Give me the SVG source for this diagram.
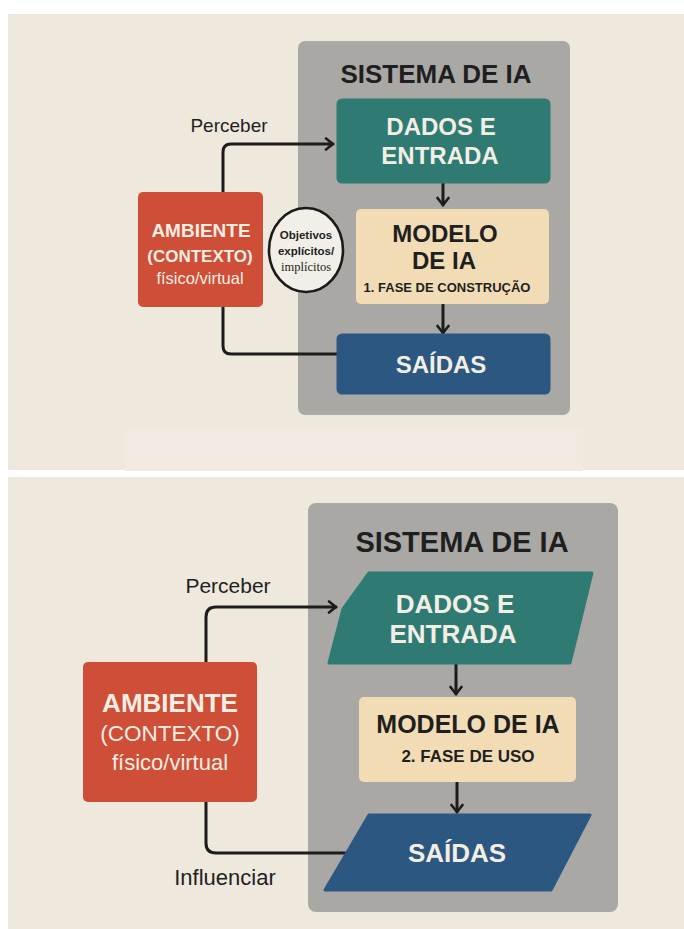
<svg xmlns="http://www.w3.org/2000/svg" width="684" height="929" viewBox="0 0 684 929">
<defs>
<style>
.bg{fill:#efe8dd}
.sys{fill:#a9a8a4}
.teal{fill:#2f7b74;stroke:#2f7b74;stroke-width:3;stroke-linejoin:round}
.cream{fill:#f1dcb6}
.navy{fill:#2c5781;stroke:#2c5781;stroke-width:3;stroke-linejoin:round}
.red{fill:#cf4e37}
.t{font-family:"Liberation Sans",Arial,sans-serif;text-anchor:middle}
.b{font-weight:bold}
.w{fill:#f3eee4}
.d{fill:#1f1f1f}
.con{fill:none;stroke:#1c1c1c;stroke-width:3;stroke-linecap:round;stroke-linejoin:round}
</style>
<marker id="ah" viewBox="0 0 14 14" refX="11" refY="7" markerWidth="14" markerHeight="14" orient="auto" markerUnits="userSpaceOnUse">
<path d="M4,1.5 L11,7 L4,12.5" fill="none" stroke="#1c1c1c" stroke-width="2.6" stroke-linecap="round" stroke-linejoin="round"/>
</marker>
</defs>
<rect width="684" height="929" fill="#ffffff"/>
<rect class="bg" x="8" y="14" width="676" height="456"/>
<rect x="125" y="428" width="458" height="43" fill="#f0eae0"/>
<rect class="bg" x="8" y="477" width="676" height="452"/>

<!-- TOP PANEL -->
<g id="sistema1">
<rect class="sys" x="298" y="41" width="272" height="374" rx="7"/>
<text class="t b d" x="436" y="83" font-size="26">SISTEMA DE IA</text>
</g>
<g id="connectors1">
<path class="con" d="M223,192 V152 Q223,144 231,144 H333" marker-end="url(#ah)"/>
<path class="con" d="M223,307 V346 Q223,354 231,354 H339"/>
<path class="con" d="M443,183 V205" marker-end="url(#ah)"/>
<path class="con" d="M443,305 V333" marker-end="url(#ah)"/>
<text class="t d" x="229" y="132" font-size="19">Perceber</text>
</g>
<g id="dados1">
<rect class="teal" x="338" y="100" width="211" height="82" rx="4"/>
<text class="t b w" x="441" y="135" font-size="24">DADOS E</text>
<text class="t b w" x="440" y="164" font-size="24">ENTRADA</text>
</g>
<g id="modelo1">
<rect class="cream" x="356" y="209" width="193" height="95" rx="5"/>
<text class="t b d" x="445" y="242" font-size="24">MODELO</text>
<text class="t b d" x="444" y="269" font-size="24">DE IA</text>
<text class="t b d" x="447" y="292" font-size="13">1. FASE DE CONSTRUÇÃO</text>
</g>
<g id="saidas1">
<rect class="navy" x="338" y="335" width="211" height="58" rx="4"/>
<text class="t b w" x="441" y="373" font-size="24">SAÍDAS</text>
</g>
<g id="ambiente1">
<rect class="red" x="138" y="192" width="125" height="115" rx="5"/>
<text class="t b w" x="201" y="237" font-size="19">AMBIENTE</text>
<text class="t b w" x="200" y="262" font-size="17">(CONTEXTO)</text>
<text class="t w" x="200" y="284" font-size="16.5">físico/virtual</text>
</g>
<g id="objetivos1">
<ellipse cx="306" cy="250" rx="37" ry="42" fill="#f2efe8" stroke="#1a1a1a" stroke-width="2.6"/>
<text class="t b d" x="306" y="239" font-size="11.5">Objetivos</text>
<text class="t b d" x="306" y="255" font-size="11.5">explícitos/</text>
<text class="d" x="306" y="271" font-size="12.5" font-family="'Liberation Serif',serif" text-anchor="middle">implícitos</text>
</g>

<!-- BOTTOM PANEL -->
<g id="sistema2">
<rect class="sys" x="308" y="503" width="310" height="409" rx="8"/>
<text class="t b d" x="462" y="552" font-size="29">SISTEMA DE IA</text>
</g>
<g id="connectors2">
<path class="con" d="M206,662 V617 Q206,607 216,607 H336" marker-end="url(#ah)"/>
<path class="con" d="M206,802 V843 Q206,853 216,853 H345"/>
<path class="con" d="M456,664 V694" marker-end="url(#ah)"/>
<path class="con" d="M457,782 V812" marker-end="url(#ah)"/>
<text class="t d" x="228" y="593" font-size="21">Perceber</text>
<text class="t d" x="225" y="885" font-size="22">Influenciar</text>
</g>
<g id="dados2">
<polygon class="teal" points="369,573 592,573 570,663 329,663 343,609"/>
<text class="t b w" x="455" y="613" font-size="26">DADOS E</text>
<text class="t b w" x="453" y="643" font-size="26">ENTRADA</text>
</g>
<g id="modelo2">
<rect class="cream" x="359" y="697" width="217" height="85" rx="5"/>
<text class="t b d" x="468" y="733" font-size="25">MODELO DE IA</text>
<text class="t b d" x="468" y="762" font-size="17">2. FASE DE USO</text>
</g>
<g id="saidas2">
<polygon class="navy" points="369,815 590,815 551,890 325,890"/>
<text class="t b w" x="457" y="862" font-size="26">SAÍDAS</text>
</g>
<g id="ambiente2">
<rect class="red" x="83" y="662" width="174" height="140" rx="5"/>
<text class="t b w" x="170" y="712" font-size="26">AMBIENTE</text>
<text class="t w" x="170" y="741" font-size="22.5">(CONTEXTO)</text>
<text class="t w" x="170" y="770" font-size="22">físico/virtual</text>
</g>
</svg>
